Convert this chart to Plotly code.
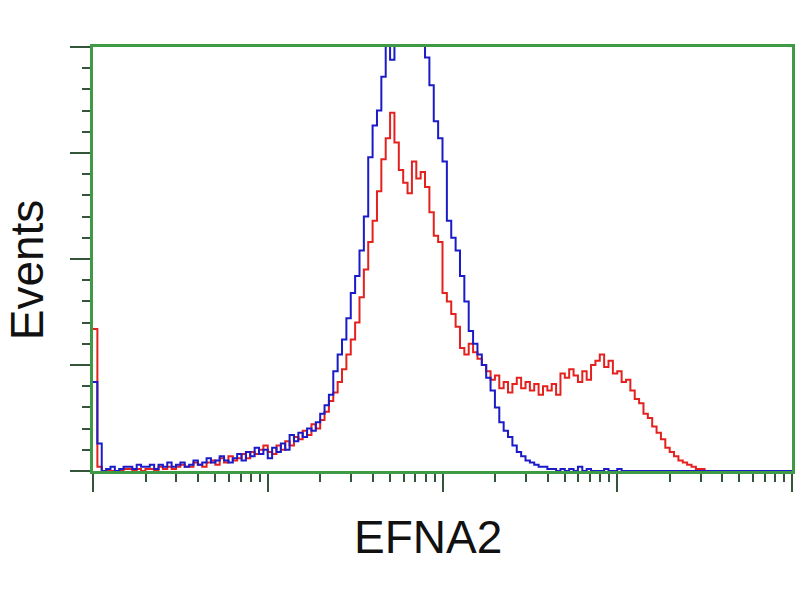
import plotly.graph_objects as go

# log10 intensity bins (0..4 decades, step 0.025)
log_step = 0.025
n_bins = 161

# Events per bin (index = bin number)
blue_counts = [
    42, 13, 0, 1, 2, 0, 1, 2, 2, 1,
    3, 2, 2, 3, 1, 3, 2, 4, 2, 3,
    4, 2, 3, 5, 3, 4, 6, 4, 5, 7,
    5, 4, 6, 8, 5, 9, 7, 11, 8, 10,
    6, 11, 9, 13, 10, 17, 14, 18, 16, 20,
    19, 23, 27, 31, 36, 47, 55, 62, 72, 84,
    92, 104, 120, 148, 163, 170, 186, 205, 194, 215,
    230, 240, 235, 225, 215, 205, 195, 182, 165, 157,
    146, 118, 110, 104, 92, 80, 66, 60, 55, 50,
    44, 38, 30, 23, 19, 16, 12, 9, 7, 5,
    4, 3, 2, 2, 1, 1, 0, 1, 0, 1,
    0, 2, 0, 1, 0, 0, 0, 1, 0, 0,
    1, 0, 0, 0, 0, 0, 0, 0, 0, 0,
    0, 0, 0, 0, 0, 0, 0, 0, 0, 0,
    0, 0, 0, 0, 0, 0, 0, 0, 0, 0,
    0, 0, 0, 0, 0, 0, 0, 0, 0, 0,
    0,
]

red_counts = [
    67, 2, 0, 0, 0, 0, 0, 1, 1, 0,
    1, 0, 1, 1, 0, 2, 1, 2, 1, 2,
    3, 2, 2, 4, 3, 2, 4, 5, 3, 6,
    4, 7, 5, 6, 8, 6, 9, 8, 10, 12,
    9, 8, 12, 10, 14, 12, 16, 15, 19, 17,
    22, 20, 24, 28, 33, 37, 42, 48, 55, 62,
    70, 82, 95, 108, 118, 132, 147, 157, 169, 155,
    142, 136, 131, 146, 138, 141, 134, 122, 111, 108,
    84, 80, 74, 68, 58, 55, 60, 56, 53, 50,
    47, 43, 45, 39, 42, 37, 41, 44, 39, 42,
    38, 41, 36, 40, 38, 41, 36, 46, 44, 48,
    45, 42, 47, 43, 50, 52, 55, 49, 52, 46,
    47, 42, 43, 38, 34, 32, 27, 25, 21, 18,
    15, 11, 9, 7, 5, 4, 3, 2, 1, 1,
    0, 0, 0, 0, 0, 0, 0, 0, 0, 0,
    0, 0, 0, 0, 0, 0, 0, 0, 0, 0,
    0,
]

x_title = "EFNA2"
y_title = "Events"

x_vals = [10 ** (i * log_step) for i in range(n_bins)]

major_x = [1, 10, 100, 1000, 10000]
minor_x = [m * d for d in [1, 10, 100, 1000] for m in range(2, 10)]
major_y = [0, 50, 100, 150, 200]
minor_y = [v for v in range(0, 201, 10) if v % 50 != 0]

fig = go.Figure()
fig.add_trace(go.Scatter(x=x_vals, y=red_counts, mode="lines",
                         line=dict(color="#e3221f", width=2, shape="hv"),
                         showlegend=False))
fig.add_trace(go.Scatter(x=x_vals, y=blue_counts, mode="lines",
                         line=dict(color="#1b1bc8", width=2, shape="hv"),
                         showlegend=False))

frame = "#3f9a45"
tickc = "#35553a"
fig.update_xaxes(type="log", range=[0, 4], showgrid=False, zeroline=False,
                 showline=True, linecolor=frame, linewidth=3, mirror=True,
                 ticks="outside", tickvals=major_x, ticklen=18, tickwidth=2,
                 tickcolor=tickc, showticklabels=False,
                 minor=dict(tickvals=minor_x, ticks="outside", ticklen=8,
                            tickwidth=2, tickcolor=tickc, showgrid=False))
fig.update_yaxes(range=[0, 200], showgrid=False, zeroline=False,
                 showline=True, linecolor=frame, linewidth=3, mirror=True,
                 ticks="outside", tickvals=major_y, ticklen=20, tickwidth=2,
                 tickcolor=tickc, showticklabels=False,
                 minor=dict(tickvals=minor_y, ticks="outside", ticklen=8,
                            tickwidth=2, tickcolor=tickc, showgrid=False))

fig.add_annotation(text=x_title, xref="paper", yref="paper", x=(429 - 93) / 702,
                   y=-(537 - 471) / 424, showarrow=False,
                   font=dict(family="Liberation Sans, Arial, sans-serif", size=46, color="#111111"),
                   xanchor="center", yanchor="middle")
fig.add_annotation(text=y_title, xref="paper", yref="paper", x=-(93 - 27) / 702,
                   y=(471 - 270) / 424, showarrow=False, textangle=-90,
                   font=dict(family="Liberation Sans, Arial, sans-serif", size=46, color="#111111"),
                   xanchor="center", yanchor="middle")

fig.update_layout(width=800, height=600, paper_bgcolor="white", plot_bgcolor="white",
                  margin=dict(l=93, r=5, t=47, b=129), showlegend=False)

fig.write_html("out.html", config={"displayModeBar": False},
               post_script="document.body.style.margin='0px';document.body.style.overflow='hidden';")
